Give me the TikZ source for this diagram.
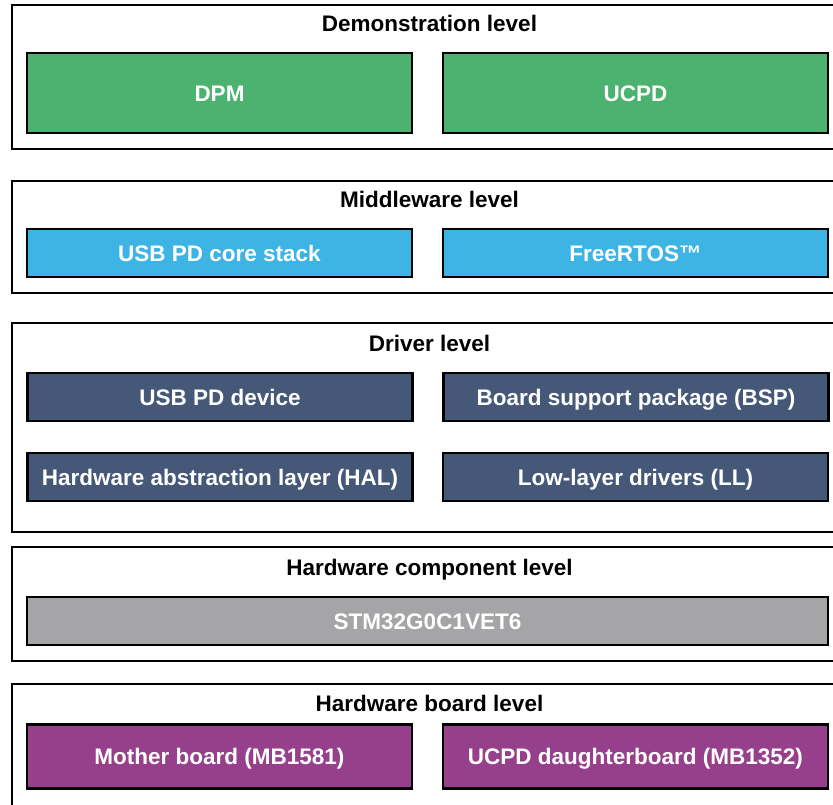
\documentclass[tikz,border=0pt]{standalone}
\usepackage{fontspec}
\setmainfont{Liberation Sans}
\definecolor{demogreen}{RGB}{75,178,112}
\definecolor{midblue}{RGB}{62,180,228}
\definecolor{drvslate}{RGB}{70,88,120}
\definecolor{hwgray}{RGB}{165,165,168}
\definecolor{boardpurple}{RGB}{150,64,140}
\tikzset{
  x=1pt, y=-1pt,
  levelbox/.style={draw=black, line width=2.6pt, fill=white, rectangle, inner sep=0pt, minimum width=828pt},
  leveltitle/.style={font=\fontsize{22.5}{27}\selectfont\bfseries, text=black, inner sep=0pt, text height=16.1pt, text depth=0pt},
  blockbox/.style={draw=black, line width=2.8pt, rectangle, inner sep=0pt, text=white,
    font=\fontsize{22.5}{27}\selectfont\bfseries, text height=16.1pt, text depth=0pt},
  halfbox/.style={blockbox, minimum width=385pt},
}
\begin{document}
\begin{tikzpicture}
\useasboundingbox (0,0) rectangle (833,804);
\clip (0,0) rectangle (833,804);
\fill[white] (0,0) rectangle (833,804);
% Demonstration level
\node[levelbox, minimum height=144pt] (L1) at (426,77) {};
\node[leveltitle] (T1) at (429.5,23.7) {Demonstration level};
\node[halfbox, fill=demogreen, minimum height=80pt] (dpm) at (219.5,93) {DPM};
\node[halfbox, fill=demogreen, minimum height=80pt] (ucpd) at (635.5,93) {UCPD};
% Middleware level
\node[levelbox, minimum height=112pt] (L2) at (426,237) {};
\node[leveltitle] (T2) at (429.5,199.5) {Middleware level};
\node[halfbox, fill=midblue, minimum height=48pt] (core) at (219.5,253) {USB PD core stack};
\node[halfbox, fill=midblue, minimum height=48pt] (rtos) at (635.5,253) {FreeRTOS™};
% Driver level
\node[levelbox, minimum height=209pt] (L3) at (426,427.5) {};
\node[leveltitle] (T3) at (429.5,343.5) {Driver level};
\node[halfbox, fill=drvslate, minimum height=48pt] (usbdev) at (220,397) {USB PD device};
\node[halfbox, fill=drvslate, minimum height=48pt] (bsp) at (636,397) {Board support package (BSP)};
\node[halfbox, fill=drvslate, minimum height=48pt] (hal) at (220,477) {Hardware abstraction layer (HAL)};
\node[halfbox, fill=drvslate, minimum height=48pt] (ll) at (635.5,477) {Low-layer drivers (LL)};
% Hardware component level
\node[levelbox, minimum height=114pt] (L4) at (426,604) {};
\node[leveltitle] (T4) at (429.5,567.5) {Hardware component level};
\node[blockbox, fill=hwgray, minimum width=801pt, minimum height=48pt] (stm) at (427.5,621) {STM32G0C1VET6};
% Hardware board level
\node[levelbox, minimum height=128pt] (L5) at (426,748) {};
\node[leveltitle] (T5) at (429.5,703.5) {Hardware board level};
\node[halfbox, fill=boardpurple, minimum height=64pt] (mb) at (219.5,756.5) {Mother board (MB1581)};
\node[halfbox, fill=boardpurple, minimum height=64pt] (db) at (635.5,756.5) {UCPD daughterboard (MB1352)};
\end{tikzpicture}
\end{document}
